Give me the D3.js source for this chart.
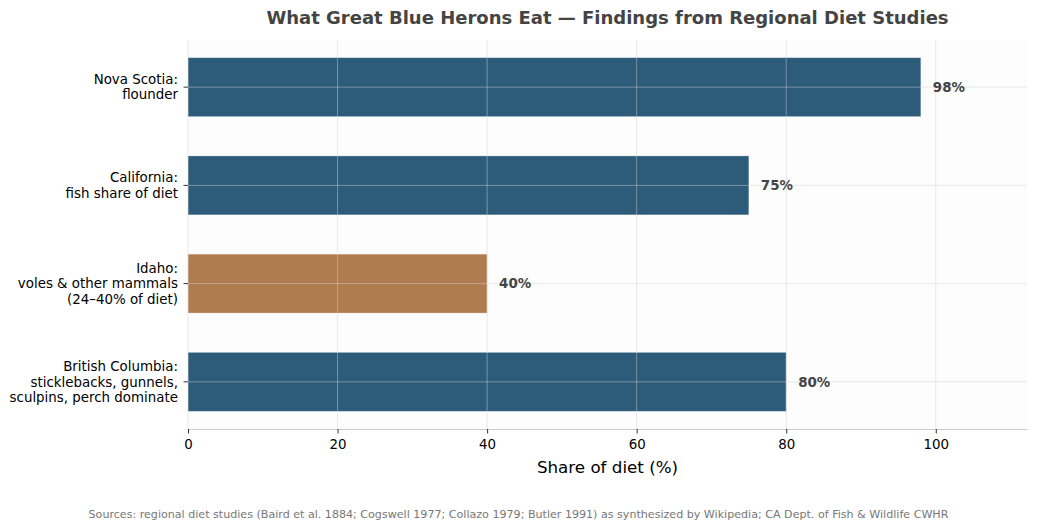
<!DOCTYPE html>
<html>
<head>
<meta charset="utf-8">
<script src="https://cdn.jsdelivr.net/npm/d3@7"></script>
<style>
  body { margin: 0; background: #fff; }
  svg { display: block; font-family: "DejaVu Sans", sans-serif; }
</style>
</head>
<body>
<svg id="chart" width="1037" height="530"></svg>
<script>
// Data
const categories = [
  ["Nova Scotia:", "flounder"],
  ["California:", "fish share of diet"],
  ["Idaho:", "voles & other mammals", "(24–40% of diet)"],
  ["British Columbia:", "sticklebacks, gunnels,", "sculpins, perch dominate"]
];
const values = [98, 75, 40, 80];
const barColors = ["#2d5b7a", "#2d5b7a", "#af7c4f", "#2d5b7a"];
const xTicks = [0, 20, 40, 60, 80, 100];
const titleText = "What Great Blue Herons Eat — Findings from Regional Diet Studies";
const xLabelText = "Share of diet (%)";
const sourceText = "Sources: regional diet studies (Baird et al. 1884; Cogswell 1977; Collazo 1979; Butler 1991) as synthesized by Wikipedia; CA Dept. of Fish & Wildlife CWHR";

const W = 1037, H = 530;
const m = { left: 188, right: 10, top: 40, bottom: 101 };
const pw = W - m.left - m.right, ph = H - m.top - m.bottom;

const svg = d3.select("#chart");
const g = svg.append("g").attr("transform", `translate(${m.left},${m.top})`);

const x = d3.scaleLinear().domain([0, 112.2]).range([0, pw]);
// positions 0..3 from top; matplotlib-like margins
const y = d3.scaleLinear().domain([-0.48, 3.48]).range([0, ph]);
const barH = y(0.6) - y(0);

g.append("rect").attr("width", pw).attr("height", ph).attr("fill", "#fdfdfd");

// bars
g.selectAll("rect.bar").data(values).join("rect")
  .attr("class", "bar")
  .attr("x", x(0))
  .attr("y", (d, i) => y(i) - barH / 2)
  .attr("width", d => x(d) - x(0))
  .attr("height", barH)
  .attr("fill", (d, i) => barColors[i])
  .attr("stroke", "#ffffff")
  .attr("stroke-opacity", 0.35)
  .attr("stroke-width", 0.8);

// grid (on top)
g.selectAll("line.vgrid").data(xTicks).join("line")
  .attr("class", "vgrid")
  .attr("x1", d => x(d)).attr("x2", d => x(d))
  .attr("y1", 0).attr("y2", ph)
  .attr("stroke", "#d0d0d0").attr("stroke-opacity", 0.6).attr("stroke-width", 0.8);
g.selectAll("line.hgrid").data(values).join("line")
  .attr("class", "hgrid")
  .attr("x1", 0).attr("x2", pw)
  .attr("y1", (d, i) => y(i)).attr("y2", (d, i) => y(i))
  .attr("stroke", "#d0d0d0").attr("stroke-opacity", 0.6).attr("stroke-width", 0.8);

// value labels
g.selectAll("text.val").data(values).join("text")
  .attr("class", "val")
  .attr("x", d => x(d) + 12)
  .attr("y", (d, i) => y(i))
  .attr("dy", "0.35em")
  .attr("font-size", "13.4px")
  .attr("font-weight", "bold")
  .attr("fill", "#444")
  .text(d => d + "%");

// x axis
const xAxis = g.append("g").attr("transform", `translate(0,${ph})`)
  .call(d3.axisBottom(x).tickValues(xTicks).tickSize(4.5).tickSizeOuter(0).tickPadding(6));
xAxis.select(".domain").attr("stroke", "#cccccc").attr("stroke-width", 1.2);
xAxis.selectAll(".tick line").attr("stroke", "#000").attr("stroke-width", 0.8);
xAxis.selectAll(".tick text").attr("font-size", "13.4px").attr("fill", "#000")
  .attr("font-family", "DejaVu Sans, sans-serif");

// y ticks and labels
const lineH = 15.2;
categories.forEach((lines, i) => {
  const cy = y(i);
  g.append("line").attr("x1", -4.5).attr("x2", 0).attr("y1", cy).attr("y2", cy)
    .attr("stroke", "#000").attr("stroke-width", 0.8);
  const t = g.append("text")
    .attr("x", -10)
    .attr("text-anchor", "end")
    .attr("font-size", "13.4px")
    .attr("fill", "#000");
  const n = lines.length;
  lines.forEach((ln, k) => {
    t.append("tspan").attr("x", -10)
      .attr("y", cy + (k - (n - 1) / 2) * lineH)
      .attr("dy", "0.35em")
      .text(ln);
  });
});

// title
svg.append("text")
  .attr("x", m.left + pw / 2).attr("y", 24)
  .attr("text-anchor", "middle")
  .attr("font-size", "18px").attr("font-weight", "bold").attr("fill", "#444")
  .text(titleText);

// x label
svg.append("text")
  .attr("x", m.left + pw / 2).attr("y", m.top + ph + 44)
  .attr("text-anchor", "middle")
  .attr("font-size", "16.7px").attr("fill", "#000")
  .text(xLabelText);

// source
svg.append("text")
  .attr("x", W / 2).attr("y", 518)
  .attr("text-anchor", "middle")
  .attr("font-size", "11.1px").attr("fill", "#777")
  .text(sourceText);
</script>
</body>
</html>
